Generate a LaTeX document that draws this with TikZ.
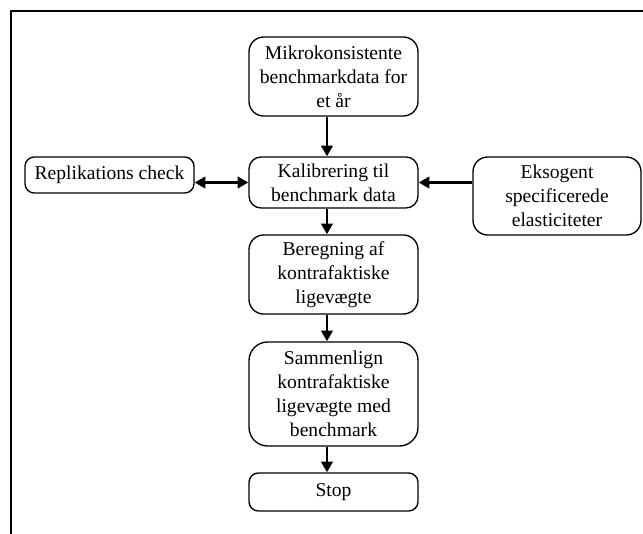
\documentclass[tikz,border=0pt]{standalone}
\usepackage{fontspec}
\setmainfont{Liberation Serif}
\usetikzlibrary{arrows.meta}
\begin{document}
\begin{tikzpicture}[x=0.75pt,y=-0.75pt,
  box/.style={draw, line width=1pt, align=center, inner sep=0pt,
    minimum width=126.75pt, font=\fontsize{14.7}{18}\selectfont},
  conn/.style={line width=2.2pt, -{Triangle[length=8pt,width=8.5pt]}},
  bconn/.style={line width=2.2pt, {Triangle[length=8pt,width=8.5pt]}-{Triangle[length=8pt,width=8.5pt]}}]
\useasboundingbox (0,0) rectangle (643,533);
\draw[line width=1.5pt, line cap=rect] (11,533) -- (11,11) -- (643,11);

\node[box, minimum height=59.25pt, rounded corners=11pt] (mik) at (333.5,76.5) {Mikrokonsistente\\benchmarkdata for\\et år};
\node[box, minimum height=38.25pt, rounded corners=9pt] (kal) at (333.5,182.5) {Kalibrering til\\benchmark data};
\node[box, minimum height=27pt, rounded corners=7pt] (rep) at (109.5,175) {Replikations check};
\node[box, minimum width=126pt, minimum height=58.5pt, rounded corners=11pt] (eks) at (557,196) {Eksogent\\specificerede\\elasticiteter};
\node[box, minimum height=59.25pt, rounded corners=11pt] (ber) at (333.5,274.5) {Beregning af\\kontrafaktiske\\ligevægte};
\node[box, minimum height=78pt, rounded corners=14pt] (sam) at (333.5,394) {Sammenlign\\kontrafaktiske\\ligevægte med\\benchmark};
\node[box, minimum height=28.5pt, rounded corners=7pt] (stop) at (333.5,492) {Stop};

\draw[conn] ([xshift=-4.9pt]mik.south) -- ([xshift=-4.9pt]kal.north);
\draw[conn] ([xshift=-4.9pt]kal.south) -- ([xshift=-4.9pt]ber.north);
\draw[conn] ([xshift=-4.9pt]ber.south) -- ([xshift=-4.9pt]sam.north);
\draw[conn] ([xshift=-4.9pt]sam.south) -- ([xshift=-4.9pt]stop.north);
\draw[bconn] (kal.west -| rep.east) -- (kal.west);
\draw[conn] (eks.west |- kal.east) -- (kal.east);
\end{tikzpicture}
\end{document}
